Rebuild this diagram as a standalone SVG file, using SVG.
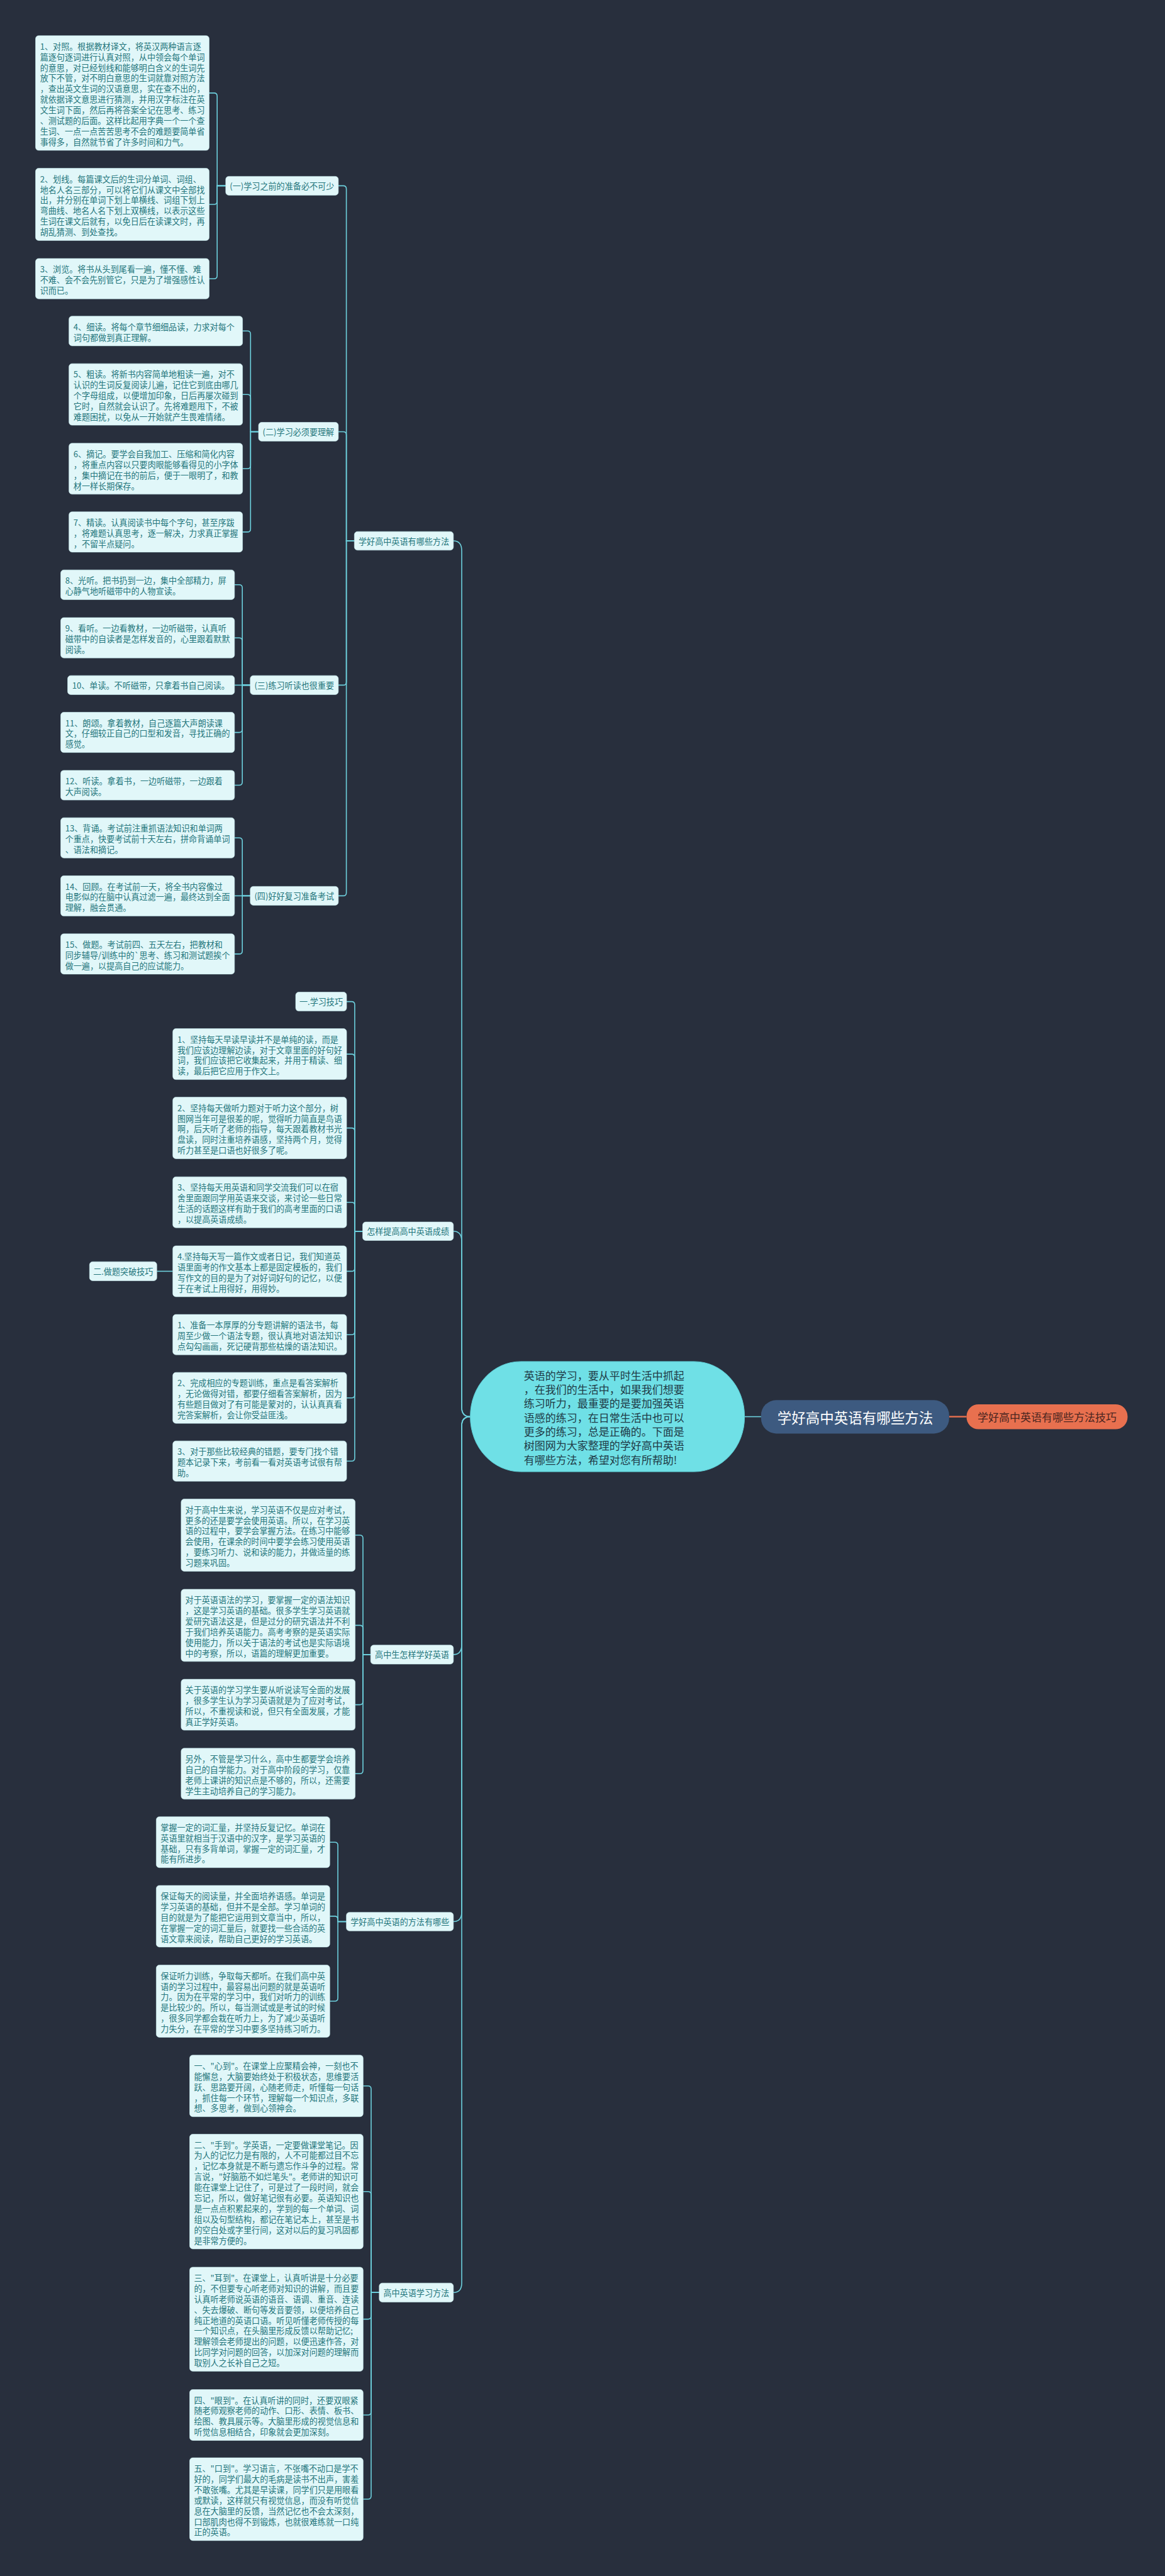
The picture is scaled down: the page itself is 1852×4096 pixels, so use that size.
<svg xmlns="http://www.w3.org/2000/svg" width="1852" height="4096" viewBox="0 0 1852 4096">
<style>
.bg{fill:#282f3d}
.box{fill:#e1f7f9;stroke:#c9eef2;stroke-width:0.6}
.t{font-family:"Noto Sans CJK SC","Noto Sans",sans-serif;font-size:13.1px;fill:#24767c;dominant-baseline:central}
.tc{text-anchor:middle}
.c{fill:none;stroke:#6dd0dd;stroke-width:1.6}
.co{fill:none;stroke:#e8704f;stroke-width:2.4}
.ctr{font-family:"Noto Sans CJK SC","Noto Sans",sans-serif;font-size:17px;fill:#1f3b47;dominant-baseline:central}
.root{font-family:"Noto Sans CJK SC","Noto Sans",sans-serif;font-size:22.5px;fill:#ffffff;dominant-baseline:central;text-anchor:middle}
.sub{font-family:"Noto Sans CJK SC","Noto Sans",sans-serif;font-size:17px;fill:#4a2520;dominant-baseline:central;text-anchor:middle}
</style>
<rect class="bg" x="0" y="0" width="1852" height="4096"/>

<g id="connectors">
<path class="c" d="M563.3,860 H550.6 V300.4 Q550.6,295.4 545.6,295.4 H537.9"/>
<path class="c" d="M563.3,860 H550.6 V691.5 Q550.6,686.5 545.6,686.5 H537.9"/>
<path class="c" d="M563.3,860 H550.6 V1084.4 Q550.6,1089.4 545.6,1089.4 H537.9"/>
<path class="c" d="M563.3,860 H550.6 V1419.4 Q550.6,1424.4 545.6,1424.4 H537.9"/>

<path class="c" d="M358.8,295.4 H345.2 V152.9 Q345.2,147.9 340.2,147.9 H332.5"/>
<path class="c" d="M358.8,295.4 H345.2 V320 Q345.2,325 340.2,325 H332.5"/>
<path class="c" d="M358.8,295.4 H345.2 V438.2 Q345.2,443.2 340.2,443.2 H332.5"/>

<path class="c" d="M411,686.5 H398.3 V531.3 Q398.3,526.3 393.3,526.3 H385.6"/>
<path class="c" d="M411,686.5 H398.3 V632.2 Q398.3,627.2 393.3,627.2 H385.6"/>
<path class="c" d="M411,686.5 H398.3 V740.3 Q398.3,745.3 393.3,745.3 H385.6"/>
<path class="c" d="M411,686.5 H398.3 V840.9 Q398.3,845.9 393.3,845.9 H385.6"/>

<path class="c" d="M397.8,1089.4 H385.2 V934.8 Q385.2,929.8 380.2,929.8 H372.8"/>
<path class="c" d="M397.8,1089.4 H385.2 V1019.2 Q385.2,1014.2 380.2,1014.2 H372.8"/>
<path class="c" d="M397.8,1089.4 H372.8"/>
<path class="c" d="M397.8,1089.4 H385.2 V1159.6 Q385.2,1164.6 380.2,1164.6 H372.8"/>
<path class="c" d="M397.8,1089.4 H385.2 V1243.5 Q385.2,1248.5 380.2,1248.5 H372.8"/>

<path class="c" d="M397.8,1424.4 H385.2 V1337.3 Q385.2,1332.3 380.2,1332.3 H372.8"/>
<path class="c" d="M397.8,1424.4 H372.8"/>
<path class="c" d="M397.8,1424.4 H385.2 V1511.9 Q385.2,1516.9 380.2,1516.9 H372.8"/>

<path class="c" d="M576.5,1957.8 H563.9 V1597.6 Q563.9,1592.6 558.9,1592.6 H551"/>
<path class="c" d="M576.5,1957.8 H563.9 V1681.1 Q563.9,1676.1 558.9,1676.1 H551"/>
<path class="c" d="M576.5,1957.8 H563.9 V1798.6 Q563.9,1793.6 558.9,1793.6 H551"/>
<path class="c" d="M576.5,1957.8 H563.9 V1916.7 Q563.9,1911.7 558.9,1911.7 H551"/>
<path class="c" d="M576.5,1957.8 H563.9 V2016.4 Q563.9,2021.4 558.9,2021.4 H551"/>
<path class="c" d="M576.5,1957.8 H563.9 V2117.2 Q563.9,2122.2 558.9,2122.2 H551"/>
<path class="c" d="M576.5,1957.8 H563.9 V2217.7 Q563.9,2222.7 558.9,2222.7 H551"/>
<path class="c" d="M576.5,1957.8 H563.9 V2318.3 Q563.9,2323.3 558.9,2323.3 H551"/>
<path class="c" d="M249.3,2021.4 H274.7"/>

<path class="c" d="M589.2,2630.9 H577 V2446 Q577,2441 572,2441 H564.6"/>
<path class="c" d="M589.2,2630.9 H577 V2589.4 Q577,2584.4 572,2584.4 H564.6"/>
<path class="c" d="M589.2,2630.9 H577 V2705.6 Q577,2710.6 572,2710.6 H564.6"/>
<path class="c" d="M589.2,2630.9 H577 V2815.3 Q577,2820.3 572,2820.3 H564.6"/>

<path class="c" d="M550.6,3055.5 H537.1 V2934.2 Q537.1,2929.2 532.1,2929.2 H524.3"/>
<path class="c" d="M550.6,3055.5 H537.1 V3051.9 Q537.1,3046.9 532.1,3046.9 H524.3"/>
<path class="c" d="M550.6,3055.5 H537.1 V3177 Q537.1,3182 532.1,3182 H524.3"/>

<path class="c" d="M602.8,3645.3 H590 V3321.7 Q590,3316.7 585,3316.7 H577.3"/>
<path class="c" d="M602.8,3645.3 H590 V3489.7 Q590,3484.7 585,3484.7 H577.3"/>
<path class="c" d="M602.8,3645.3 H590 V3682.6 Q590,3687.6 585,3687.6 H577.3"/>
<path class="c" d="M602.8,3645.3 H590 V3835 Q590,3840 585,3840 H577.3"/>
<path class="c" d="M602.8,3645.3 H590 V3968.8 Q590,3973.8 585,3973.8 H577.3"/>

<path class="c" d="M720.8,860 Q734,860 734,876 V2238 Q734,2252.6 747.6,2252.6"/>
<path class="c" d="M720.8,1957.8 Q734,1957.8 734,1974 V2238 Q734,2252.6 747.6,2252.6"/>
<path class="c" d="M720.8,2630.9 Q734,2630.9 734,2615 V2267 Q734,2252.6 747.6,2252.6"/>
<path class="c" d="M720.8,3055.5 Q734,3055.5 734,3040 V2267 Q734,2252.6 747.6,2252.6"/>
<path class="c" d="M720.8,3645.3 Q734,3645.3 734,3630 V2267 Q734,2252.6 747.6,2252.6"/>

<path class="c" d="M1183.6,2252.6 H1209.9"/>
<path class="co" d="M1508.8,2252.6 H1536.5"/>
</g>

<g id="center">
<rect x="747.6" y="2164.9" width="436" height="175.2" rx="80" ry="87" fill="#6fe0e6" stroke="#5ccad2" stroke-width="1"/>
<text class="ctr"><tspan x="832.7" y="2185.8">英语的学习，要从平时生活中抓起</tspan><tspan x="832.7" y="2208.1">，在我们的生活中，如果我们想要</tspan><tspan x="832.7" y="2230.4">练习听力，最重要的是要加强英语</tspan><tspan x="832.7" y="2252.7">语感的练习，在日常生活中也可以</tspan><tspan x="832.7" y="2275">更多的练习，总是正确的。下面是</tspan><tspan x="832.7" y="2297.3">树图网为大家整理的学好高中英语</tspan><tspan x="832.7" y="2319.6">有哪些方法，希望对您有所帮助!</tspan></text>
</g>
<g id="root">
<rect x="1209.9" y="2226.3" width="298.9" height="53.1" rx="24" fill="#3d5a80"/>
<text class="root" x="1359.4" y="2252.8">学好高中英语有哪些方法</text>
</g>
<g id="sub">
<rect x="1536.5" y="2232.9" width="256" height="39.7" rx="19" fill="#e8704f"/>
<text class="sub" x="1664.5" y="2252.7">学好高中英语有哪些方法技巧</text>
</g>

<g id="catA"><rect class="box" x="563.3" y="845.2" width="157.5" height="29.6" rx="5"/><text class="t tc" x="642" y="860">学好高中英语有哪些方法</text></g>
<g id="cat1"><rect class="box" x="358.8" y="280.4" width="179.1" height="30" rx="5"/><text class="t tc" x="448.3" y="295.4">(一)学习之前的准备必不可少</text></g>
<g id="cat2"><rect class="box" x="411" y="671.5" width="126.9" height="30" rx="5"/><text class="t tc" x="474.4" y="686.5">(二)学习必须要理解</text></g>
<g id="cat3"><rect class="box" x="397.8" y="1074.2" width="140.1" height="30.3" rx="5"/><text class="t tc" x="467.8" y="1089.4">(三)练习听读也很重要</text></g>
<g id="cat4"><rect class="box" x="397.8" y="1409.4" width="140.1" height="30" rx="5"/><text class="t tc" x="467.8" y="1424.4">(四)好好复习准备考试</text></g>

<g id="L1"><rect class="box" x="56.5" y="56.7" width="276" height="182.4" rx="5"/><text class="t"><tspan x="63.7" y="72.7">1、对照。根据教材译文，将英汉两种语言逐</tspan><tspan x="63.7" y="89.6">篇逐句逐词进行认真对照，从中领会每个单词</tspan><tspan x="63.7" y="106.5">的意思，对已经划线和能够明白含义的生词先</tspan><tspan x="63.7" y="123.4">放下不管，对不明白意思的生词就靠对照方法</tspan><tspan x="63.7" y="140.3">，查出英文生词的汉语意思，实在查不出的，</tspan><tspan x="63.7" y="157.2">就依据译文意思进行猜测，并用汉字标注在英</tspan><tspan x="63.7" y="174.1">文生词下面，然后再将答案全记在思考、练习</tspan><tspan x="63.7" y="191">、测试题的后面。这样比起用字典一个一个查</tspan><tspan x="63.7" y="207.9">生词、一点一点苦苦思考不会的难题要简单省</tspan><tspan x="63.7" y="224.8">事得多，自然就节省了许多时间和力气。</tspan></text></g>
<g id="L2"><rect class="box" x="56.5" y="267.6" width="276" height="114.8" rx="5"/><text class="t"><tspan x="63.7" y="283.6">2、划线。每篇课文后的生词分单词、词组、</tspan><tspan x="63.7" y="300.5">地名人名三部分，可以将它们从课文中全部找</tspan><tspan x="63.7" y="317.4">出，并分别在单词下划上单横线、词组下划上</tspan><tspan x="63.7" y="334.3">弯曲线、地名人名下划上双横线，以表示这些</tspan><tspan x="63.7" y="351.2">生词在课文后就有，以免日后在读课文时，再</tspan><tspan x="63.7" y="368.1">胡乱猜测、到处查找。</tspan></text></g>
<g id="L3"><rect class="box" x="56.5" y="411.1" width="276" height="64.1" rx="5"/><text class="t"><tspan x="63.7" y="427.1">3、浏览。将书从头到尾看一遍，懂不懂、难</tspan><tspan x="63.7" y="444">不难、会不会先别管它，只是为了增强感性认</tspan><tspan x="63.7" y="460.9">识而已。</tspan></text></g>
<g id="L4"><rect class="box" x="109.6" y="502.7" width="276" height="47.2" rx="5"/><text class="t"><tspan x="116.8" y="518.7">4、细读。将每个章节细细品读，力求对每个</tspan><tspan x="116.8" y="535.6">词句都做到真正理解。</tspan></text></g>
<g id="L5"><rect class="box" x="109.6" y="578.2" width="276" height="97.9" rx="5"/><text class="t"><tspan x="116.8" y="594.2">5、粗读。将新书内容简单地粗读一遍，对不</tspan><tspan x="116.8" y="611.1">认识的生词反复阅读儿遍，记住它到底由哪几</tspan><tspan x="116.8" y="628">个字母组成，以便增加印象，日后再屡次碰到</tspan><tspan x="116.8" y="644.9">它时，自然就会认识了。先将难题甩下，不被</tspan><tspan x="116.8" y="661.8">难题困扰，以免从一开始就产生畏难情绪。</tspan></text></g>
<g id="L6"><rect class="box" x="109.6" y="704.8" width="276" height="81" rx="5"/><text class="t"><tspan x="116.8" y="720.8">6、摘记。要学会自我加工、压缩和简化内容</tspan><tspan x="116.8" y="737.7">，将重点内容以只要肉眼能够看得见的小字体</tspan><tspan x="116.8" y="754.6">，集中摘记在书的前后，便于一眼明了，和教</tspan><tspan x="116.8" y="771.5">材一样长期保存。</tspan></text></g>
<g id="L7"><rect class="box" x="109.6" y="813.8" width="276" height="64.1" rx="5"/><text class="t"><tspan x="116.8" y="829.8">7、精读。认真阅读书中每个字句，甚至序跋</tspan><tspan x="116.8" y="846.7">，将难题认真思考，逐一解决，力求真正掌握</tspan><tspan x="116.8" y="863.6">，不留半点疑问。</tspan></text></g>
<g id="L8"><rect class="box" x="96.5" y="906.2" width="276.3" height="47.2" rx="5"/><text class="t"><tspan x="103.7" y="922.2">8、光听。把书扔到一边，集中全部精力，屏</tspan><tspan x="103.7" y="939.1">心静气地听磁带中的人物宣读。</tspan></text></g>
<g id="L9"><rect class="box" x="96.5" y="982.1" width="276.3" height="64.1" rx="5"/><text class="t"><tspan x="103.7" y="998.1">9、看听。一边看教材，一边听磁带，认真听</tspan><tspan x="103.7" y="1015">磁带中的自读者是怎样发音的，心里跟着默默</tspan><tspan x="103.7" y="1031.9">阅读。</tspan></text></g>
<g id="L10"><rect class="box" x="107.5" y="1074.2" width="265.3" height="30.3" rx="5"/><text class="t"><tspan x="114.7" y="1089.4">10、单读。不听磁带，只拿着书自己阅读。</tspan></text></g>
<g id="L11"><rect class="box" x="96.5" y="1132.5" width="276.3" height="64.1" rx="5"/><text class="t"><tspan x="103.7" y="1148.5">11、朗颂。拿着教材，自己逐篇大声朗读课</tspan><tspan x="103.7" y="1165.4">文，仔细较正自己的口型和发音，寻找正确的</tspan><tspan x="103.7" y="1182.3">感觉。</tspan></text></g>
<g id="L12"><rect class="box" x="96.5" y="1224.9" width="276.3" height="47.2" rx="5"/><text class="t"><tspan x="103.7" y="1240.9">12、听读。拿着书，一边听磁带，一边跟着</tspan><tspan x="103.7" y="1257.8">大声阅读。</tspan></text></g>
<g id="L13"><rect class="box" x="96.5" y="1300.2" width="276.3" height="64.1" rx="5"/><text class="t"><tspan x="103.7" y="1316.2">13、背诵。考试前注重抓语法知识和单词两</tspan><tspan x="103.7" y="1333.1">个重点，快要考试前十天左右，拼命背诵单词</tspan><tspan x="103.7" y="1350">、语法和摘记。</tspan></text></g>
<g id="L14"><rect class="box" x="96.5" y="1392.5" width="276.3" height="64.1" rx="5"/><text class="t"><tspan x="103.7" y="1408.5">14、回顾。在考试前一天，将全书内容像过</tspan><tspan x="103.7" y="1425.4">电影似的在脑中认真过滤一遍，最终达到全面</tspan><tspan x="103.7" y="1442.3">理解，融会贯通。</tspan></text></g>
<g id="L15"><rect class="box" x="96.5" y="1484.8" width="276.3" height="64.1" rx="5"/><text class="t"><tspan x="103.7" y="1500.8">15、做题。考试前四、五天左右，把教材和</tspan><tspan x="103.7" y="1517.7">同步辅导/训练中的`思考、练习和测试题挨个</tspan><tspan x="103.7" y="1534.6">做一遍，以提高自己的应试能力。</tspan></text></g>

<g id="catB"><rect class="box" x="576.5" y="1943" width="144.3" height="29.5" rx="5"/><text class="t tc" x="648.6" y="1957.8">怎样提高高中英语成绩</text></g>
<g id="J1"><rect class="box" x="470" y="1577.5" width="81" height="30.1" rx="5"/><text class="t tc" x="510.5" y="1592.6">一.学习技巧</text></g>
<g id="T1"><rect class="box" x="274.7" y="1635.6" width="276.3" height="81" rx="5"/><text class="t"><tspan x="281.9" y="1651.6">1、坚持每天早读早读并不是单纯的读，而是</tspan><tspan x="281.9" y="1668.5">我们应该边理解边读，对于文章里面的好句好</tspan><tspan x="281.9" y="1685.4">词，我们应该把它收集起来，并用于精读、细</tspan><tspan x="281.9" y="1702.3">读，最后把它应用于作文上。</tspan></text></g>
<g id="T2"><rect class="box" x="274.7" y="1744.6" width="276.3" height="97.9" rx="5"/><text class="t"><tspan x="281.9" y="1760.6">2、坚持每天做听力题对于听力这个部分，树</tspan><tspan x="281.9" y="1777.5">图网当年可是很差的呢，觉得听力简直是鸟语</tspan><tspan x="281.9" y="1794.4">啊，后天听了老师的指导，每天跟着教材书光</tspan><tspan x="281.9" y="1811.3">盘读，同时注重培养语感，坚持两个月，觉得</tspan><tspan x="281.9" y="1828.2">听力甚至是口语也好很多了呢。</tspan></text></g>
<g id="T3"><rect class="box" x="274.7" y="1871.2" width="276.3" height="81" rx="5"/><text class="t"><tspan x="281.9" y="1887.2">3、坚持每天用英语和同学交流我们可以在宿</tspan><tspan x="281.9" y="1904.1">舍里面跟同学用英语来交谈，来讨论一些日常</tspan><tspan x="281.9" y="1921">生活的话题这样有助于我们的高考里面的口语</tspan><tspan x="281.9" y="1937.9">，以提高英语成绩。</tspan></text></g>
<g id="T4"><rect class="box" x="274.7" y="1980.9" width="276.3" height="81" rx="5"/><text class="t"><tspan x="281.9" y="1996.9">4.坚持每天写一篇作文或者日记，我们知道英</tspan><tspan x="281.9" y="2013.8">语里面考的作文基本上都是固定模板的，我们</tspan><tspan x="281.9" y="2030.7">写作文的目的是为了对好词好句的记忆，以便</tspan><tspan x="281.9" y="2047.6">于在考试上用得好，用得妙。</tspan></text></g>
<g id="J2"><rect class="box" x="142.3" y="2006.2" width="107" height="30.3" rx="5"/><text class="t tc" x="195.8" y="2021.4">二.做题突破技巧</text></g>
<g id="G1"><rect class="box" x="274.7" y="2090.1" width="276.3" height="64.1" rx="5"/><text class="t"><tspan x="281.9" y="2106.1">1、准备一本厚厚的分专题讲解的语法书，每</tspan><tspan x="281.9" y="2123">周至少做一个语法专题，很认真地对语法知识</tspan><tspan x="281.9" y="2139.9">点勾勾画画，死记硬背那些枯燥的语法知识。</tspan></text></g>
<g id="G2"><rect class="box" x="274.7" y="2182.2" width="276.3" height="81" rx="5"/><text class="t"><tspan x="281.9" y="2198.2">2、完成相应的专题训练，重点是看答案解析</tspan><tspan x="281.9" y="2215.1">，无论做得对错，都要仔细看答案解析，因为</tspan><tspan x="281.9" y="2232">有些题目做对了有可能是蒙对的，认认真真看</tspan><tspan x="281.9" y="2248.9">完答案解析，会让你受益匪浅。</tspan></text></g>
<g id="G3"><rect class="box" x="274.7" y="2291.2" width="276.3" height="64.1" rx="5"/><text class="t"><tspan x="281.9" y="2307.2">3、对于那些比较经典的错题，要专门找个错</tspan><tspan x="281.9" y="2324.1">题本记录下来，考前看一看对英语考试很有帮</tspan><tspan x="281.9" y="2341">助。</tspan></text></g>

<g id="catC"><rect class="box" x="589.2" y="2615.8" width="131.6" height="30.2" rx="5"/><text class="t tc" x="655" y="2630.9">高中生怎样学好英语</text></g>
<g id="H1"><rect class="box" x="287.9" y="2383.6" width="276.7" height="114.8" rx="5"/><text class="t"><tspan x="294.6" y="2399.6">对于高中生来说，学习英语不仅是应对考试，</tspan><tspan x="294.6" y="2416.5">更多的还是要学会使用英语。所以，在学习英</tspan><tspan x="294.6" y="2433.4">语的过程中，要学会掌握方法。在练习中能够</tspan><tspan x="294.6" y="2450.3">会使用，在课余的时间中要学会练习使用英语</tspan><tspan x="294.6" y="2467.2">，要练习听力、说和读的能力，并做适量的练</tspan><tspan x="294.6" y="2484.1">习题来巩固。</tspan></text></g>
<g id="H2"><rect class="box" x="287.9" y="2527" width="276.7" height="114.8" rx="5"/><text class="t"><tspan x="294.6" y="2543">对于英语语法的学习，要掌握一定的语法知识</tspan><tspan x="294.6" y="2559.9">，这是学习英语的基础。很多学生学习英语就</tspan><tspan x="294.6" y="2576.8">爱研究语法这是，但是过分的研究语法并不利</tspan><tspan x="294.6" y="2593.7">于我们培养英语能力。高考考察的是英语实际</tspan><tspan x="294.6" y="2610.6">使用能力，所以关于语法的考试也是实际语境</tspan><tspan x="294.6" y="2627.5">中的考察，所以，语篇的理解更加重要。</tspan></text></g>
<g id="H3"><rect class="box" x="287.9" y="2670.1" width="276.7" height="81" rx="5"/><text class="t"><tspan x="294.6" y="2686.1">关于英语的学习学生要从听说读写全面的发展</tspan><tspan x="294.6" y="2703">，很多学生认为学习英语就是为了应对考试，</tspan><tspan x="294.6" y="2719.9">所以，不重视读和说，但只有全面发展，才能</tspan><tspan x="294.6" y="2736.8">真正学好英语。</tspan></text></g>
<g id="H4"><rect class="box" x="287.9" y="2779.8" width="276.7" height="81" rx="5"/><text class="t"><tspan x="294.6" y="2795.8">另外，不管是学习什么，高中生都要学会培养</tspan><tspan x="294.6" y="2812.7">自己的自学能力。对于高中阶段的学习，仅靠</tspan><tspan x="294.6" y="2829.6">老师上课讲的知识点是不够的，所以，还需要</tspan><tspan x="294.6" y="2846.5">学生主动培养自己的学习能力。</tspan></text></g>

<g id="catD"><rect class="box" x="550.6" y="3040.7" width="170.2" height="29.6" rx="5"/><text class="t tc" x="635.7" y="3055.5">学好高中英语的方法有哪些</text></g>
<g id="M1"><rect class="box" x="248.4" y="2888.7" width="275.9" height="81" rx="5"/><text class="t"><tspan x="255.3" y="2904.7">掌握一定的词汇量，并坚持反复记忆。单词在</tspan><tspan x="255.3" y="2921.6">英语里就相当于汉语中的汉字，是学习英语的</tspan><tspan x="255.3" y="2938.5">基础，只有多背单词，掌握一定的词汇量，才</tspan><tspan x="255.3" y="2955.4">能有所进步。</tspan></text></g>
<g id="M2"><rect class="box" x="248.4" y="2998" width="275.9" height="97.9" rx="5"/><text class="t"><tspan x="255.3" y="3014">保证每天的阅读量，并全面培养语感。单词是</tspan><tspan x="255.3" y="3030.9">学习英语的基础，但并不是全部。学习单词的</tspan><tspan x="255.3" y="3047.8">目的就是为了能把它运用到文章当中，所以，</tspan><tspan x="255.3" y="3064.7">在掌握一定的词汇量后，就要找一些合适的英</tspan><tspan x="255.3" y="3081.6">语文章来阅读，帮助自己更好的学习英语。</tspan></text></g>
<g id="M3"><rect class="box" x="248.4" y="3124.6" width="275.9" height="114.8" rx="5"/><text class="t"><tspan x="255.3" y="3140.6">保证听力训练，争取每天都听。在我们高中英</tspan><tspan x="255.3" y="3157.5">语的学习过程中，最容易出问题的就是英语听</tspan><tspan x="255.3" y="3174.4">力。因为在平常的学习中，我们对听力的训练</tspan><tspan x="255.3" y="3191.3">是比较少的。所以，每当测试或是考试的时候</tspan><tspan x="255.3" y="3208.2">，很多同学都会栽在听力上，为了减少英语听</tspan><tspan x="255.3" y="3225.1">力失分，在平常的学习中要多坚持练习听力。</tspan></text></g>

<g id="catE"><rect class="box" x="602.8" y="3630.2" width="118" height="30.2" rx="5"/><text class="t tc" x="661.8" y="3645.3">高中英语学习方法</text></g>
<g id="S1"><rect class="box" x="301.5" y="3267.8" width="275.8" height="97.9" rx="5"/><text class="t"><tspan x="308.4" y="3283.8">一、"心到"。在课堂上应聚精会神，一刻也不</tspan><tspan x="308.4" y="3300.7">能懈怠，大脑要始终处于积极状态，思维要活</tspan><tspan x="308.4" y="3317.6">跃、思路要开阔，心随老师走，听懂每一句话</tspan><tspan x="308.4" y="3334.5">，抓住每一个环节，理解每一个知识点，多联</tspan><tspan x="308.4" y="3351.4">想、多思考，做到心领神会。</tspan></text></g>
<g id="S2"><rect class="box" x="301.5" y="3393.5" width="275.8" height="182.4" rx="5"/><text class="t"><tspan x="308.4" y="3409.5">二、"手到"。学英语，一定要做课堂笔记。因</tspan><tspan x="308.4" y="3426.4">为人的记忆力是有限的，人不可能都过目不忘</tspan><tspan x="308.4" y="3443.3">，记忆本身就是不断与遗忘作斗争的过程。常</tspan><tspan x="308.4" y="3460.2">言说，"好脑筋不如烂笔头"。老师讲的知识可</tspan><tspan x="308.4" y="3477.1">能在课堂上记住了，可是过了一段时间，就会</tspan><tspan x="308.4" y="3494">忘记，所以，做好笔记很有必要。英语知识也</tspan><tspan x="308.4" y="3510.9">是一点点积累起来的，学到的每一个单词、词</tspan><tspan x="308.4" y="3527.8">组以及句型结构，都记在笔记本上，甚至是书</tspan><tspan x="308.4" y="3544.7">的空白处或字里行间，这对以后的复习巩固都</tspan><tspan x="308.4" y="3561.6">是非常方便的。</tspan></text></g>
<g id="S3"><rect class="box" x="301.5" y="3604.9" width="275.8" height="165.5" rx="5"/><text class="t"><tspan x="308.4" y="3620.9">三、"耳到"。在课堂上，认真听讲是十分必要</tspan><tspan x="308.4" y="3637.8">的，不但要专心听老师对知识的讲解，而且要</tspan><tspan x="308.4" y="3654.7">认真听老师说英语的语音、语调、重音、连读</tspan><tspan x="308.4" y="3671.6">、失去爆破、断句等发音要领，以便培养自己</tspan><tspan x="308.4" y="3688.5">纯正地道的英语口语。听见听懂老师传授的每</tspan><tspan x="308.4" y="3705.4">一个知识点，在头脑里形成反馈以帮助记忆;</tspan><tspan x="308.4" y="3722.3">理解领会老师提出的问题，以便迅速作答，对</tspan><tspan x="308.4" y="3739.2">比同学对问题的回答，以加深对问题的理解而</tspan><tspan x="308.4" y="3756.1">取别人之长补自己之短。</tspan></text></g>
<g id="S4"><rect class="box" x="301.5" y="3799.5" width="275.8" height="81" rx="5"/><text class="t"><tspan x="308.4" y="3815.5">四、"眼到"。在认真听讲的同时，还要双眼紧</tspan><tspan x="308.4" y="3832.4">随老师观察老师的动作、口形、表情、板书、</tspan><tspan x="308.4" y="3849.3">绘图、教具展示等。大脑里形成的视觉信息和</tspan><tspan x="308.4" y="3866.2">听觉信息相结合，印象就会更加深刻。</tspan></text></g>
<g id="S5"><rect class="box" x="301.5" y="3908" width="275.8" height="131.7" rx="5"/><text class="t"><tspan x="308.4" y="3924">五、"口到"。学习语言，不张嘴不动口是学不</tspan><tspan x="308.4" y="3940.9">好的，同学们最大的毛病是读书不出声，害羞</tspan><tspan x="308.4" y="3957.8">不敢张嘴。尤其是早读课，同学们只是用眼看</tspan><tspan x="308.4" y="3974.7">或默读，这样就只有视觉信息，而没有听觉信</tspan><tspan x="308.4" y="3991.6">息在大脑里的反馈，当然记忆也不会太深刻，</tspan><tspan x="308.4" y="4008.5">口部肌肉也得不到锻炼，也就很难练就一口纯</tspan><tspan x="308.4" y="4025.4">正的英语。</tspan></text></g>
</svg>
